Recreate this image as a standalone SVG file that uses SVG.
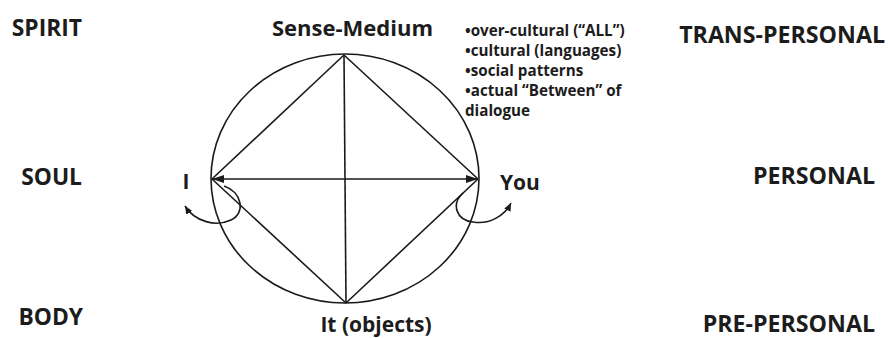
<svg xmlns="http://www.w3.org/2000/svg" width="888" height="338" viewBox="0 0 888 338">
  <style>
    .t { font-family: "Open Sans", "Liberation Sans", sans-serif; font-weight: bold; fill: #1c1c1c; }
    .lvl { font-size: 22.8px; }
    .lvr { font-size: 23.2px; }
    .nd { font-size: 21px; }
    .sm { font-size: 22px; }
    .bl { font-size: 15.2px; }
    .ln { fill: none; stroke: #1a1a1a; stroke-width: 1.6; }
  </style>
  <defs>
    <marker id="ah" viewBox="0 0 12 8" refX="12" refY="4" markerWidth="12" markerHeight="8" markerUnits="userSpaceOnUse" orient="auto-start-reverse">
      <path d="M0,0 L12,4 L0,8 Z" fill="#1a1a1a"/>
    </marker>
    <marker id="ahs" viewBox="0 0 8 7" refX="8" refY="3.5" markerWidth="8" markerHeight="7" markerUnits="userSpaceOnUse" orient="auto">
      <path d="M0,0 L8,3.5 L0,7 Z" fill="#1a1a1a"/>
    </marker>
  </defs>
  <rect width="888" height="338" fill="#ffffff"/>

  <g id="levels-left">
    <text class="t lvl" x="82" y="36" text-anchor="end">SPIRIT</text>
    <text class="t lvl" x="82" y="185" text-anchor="end">SOUL</text>
    <text class="t lvl" x="83" y="325" text-anchor="end">BODY</text>
  </g>
  <g id="levels-right">
    <text class="t lvr" x="885" y="43" text-anchor="end">TRANS-PERSONAL</text>
    <text class="t lvr" x="875" y="184" text-anchor="end">PERSONAL</text>
    <text class="t lvr" x="875" y="332" text-anchor="end">PRE-PERSONAL</text>
  </g>

  <g id="circle">
    <ellipse class="ln" cx="345" cy="178.5" rx="134" ry="124.5"/>
  </g>

  <g id="connectors">
    <line class="ln" x1="344" y1="55" x2="212" y2="179"/>
    <line class="ln" x1="344" y1="55" x2="478" y2="179"/>
    <line class="ln" x1="212" y1="179" x2="346" y2="303"/>
    <line class="ln" x1="478" y1="179" x2="346" y2="303"/>
    <line class="ln" x1="344" y1="55" x2="346" y2="303"/>
    <line class="ln" x1="212" y1="179" x2="478" y2="179" marker-start="url(#ah)" marker-end="url(#ah)"/>
    <path class="ln" d="M224 186 C242 192 246 213 231 220 C216 227 195 222 185 206" marker-end="url(#ahs)"/>
    <path class="ln" d="M463 193 C451 204 456 220 473 222 C490 225 505 215 511 203" marker-end="url(#ahs)"/>
  </g>

  <g id="node-sense-medium">
    <text class="t sm" x="352.5" y="36" text-anchor="middle">Sense-Medium</text>
  </g>
  <g id="node-list">
    <text class="t bl" x="465" y="36">•over-cultural (“ALL”)</text>
    <text class="t bl" x="465" y="56">•cultural (languages)</text>
    <text class="t bl" x="465" y="76">•social patterns</text>
    <text class="t bl" x="465" y="96">•actual “Between” of</text>
    <text class="t bl" x="465" y="116">dialogue</text>
  </g>
  <g id="node-i">
    <text class="t nd" x="186" y="189" text-anchor="middle">I</text>
  </g>
  <g id="node-you">
    <text class="t nd" x="500" y="190">You</text>
  </g>
  <g id="node-it">
    <text class="t nd" x="376" y="332" text-anchor="middle">It (objects)</text>
  </g>
</svg>
